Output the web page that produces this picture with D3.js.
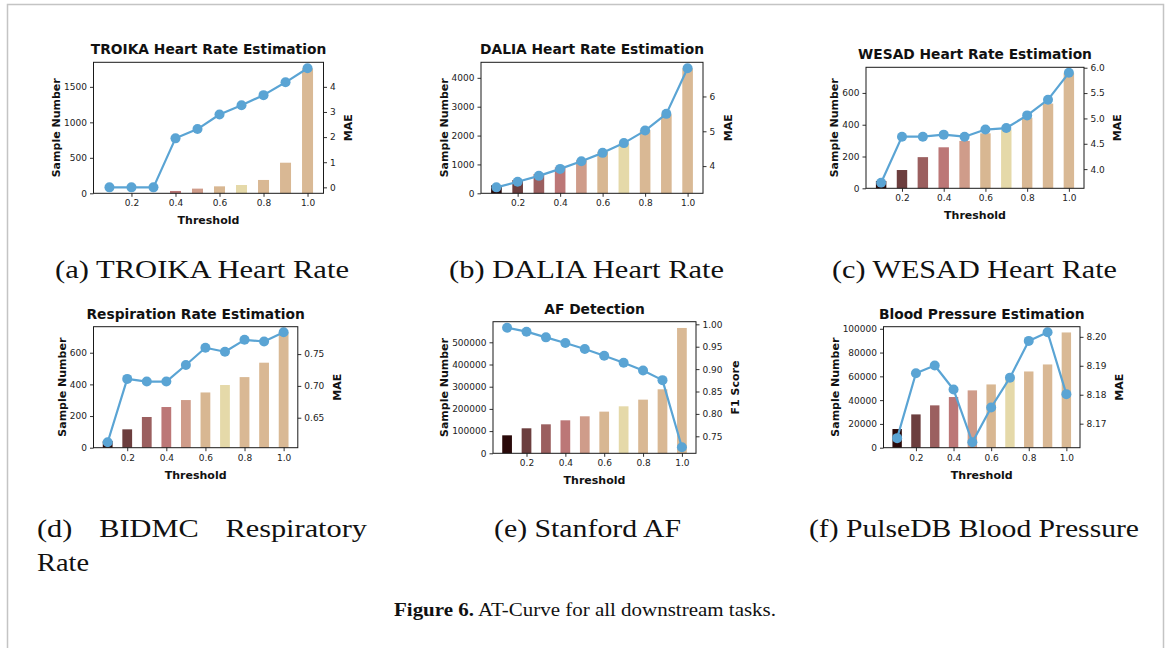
<!DOCTYPE html>
<html><head><meta charset="utf-8">
<script src="https://cdn.jsdelivr.net/npm/d3@7"></script>
<style>body{margin:0;background:#fff} svg{display:block}</style>
</head><body>
<svg id="c" width="1170" height="648"></svg>
<script>
// ---------- data ----------
const thresholds = [0.1,0.2,0.3,0.4,0.5,0.6,0.7,0.8,0.9,1.0];
const xTicks = [0.2,0.4,0.6,0.8,1.0];
const barColors = ['#2a0a0a','#6c3e3e','#9b5f5f','#bc7777','#cf9c8a','#d8b792','#e5d9a9','#d9b894','#d9b894','#d9b995'];

const troikaSamples = [0,0,0,33,66,98,117,188,431,1758];
const troikaMAE = [0,0,0,1.95,2.32,2.90,3.27,3.67,4.18,4.74];
const daliaSamples = [276,460,667,897,1149,1437,1724,2184,2736,4322];
const daliaMAE = [3.39,3.55,3.72,3.92,4.14,4.38,4.66,5.02,5.50,6.81];
const wesadSamples = [46,115,196,258,298,346,371,444,533,725];
const wesadMAE = [3.73,4.64,4.64,4.68,4.64,4.78,4.81,5.06,5.37,5.90];
const bidmcSamples = [42,116,194,257,301,349,396,446,537,728];
const bidmcMAE = [0.6115,0.711,0.7068,0.7068,0.7328,0.7599,0.7536,0.7724,0.7698,0.7844];
const afSamples = [81000,112600,130600,148600,166700,187700,211700,241700,288300,564600];
const afF1 = [0.9925,0.9836,0.9709,0.9582,0.9448,0.9299,0.9142,0.8970,0.8754,0.7254];
const bpSamples = [15700,28000,35600,42600,48200,53200,57400,64100,70000,96900];
const bpMAE = [8.1650,8.1874,8.1901,8.1818,8.1636,8.1756,8.1859,8.1986,8.2016,8.1802];

const troikaLeftTicks = [0,500,1000,1500];
const troikaRightTicks = [0,1,2,3,4];
const daliaLeftTicks = [0,1000,2000,3000,4000];
const daliaRightTicks = [4,5,6];
const wesadLeftTicks = [0,200,400,600];
const wesadRightTicks = [4.0,4.5,5.0,5.5,6.0];
const bidmcLeftTicks = [0,200,400,600];
const bidmcRightTicks = [0.65,0.70,0.75];
const afLeftTicks = [0,100000,200000,300000,400000,500000];
const afRightTicks = [0.75,0.80,0.85,0.90,0.95,1.00];
const bpLeftTicks = [0,20000,40000,60000,80000,100000];
const bpRightTicks = [8.17,8.18,8.19,8.20];

const titles = ['TROIKA Heart Rate Estimation','DALIA Heart Rate Estimation','WESAD Heart Rate Estimation',
  'Respiration Rate Estimation','AF Detection','Blood Pressure Estimation'];
const rightLabels = ['MAE','MAE','MAE','MAE','F1 Score','MAE'];
const xLabel = 'Threshold';
const leftLabel = 'Sample Number';

// ---------- layout ----------
const panels = [
  {samples:troikaSamples, metric:troikaMAE, lt:troikaLeftTicks, rt:troikaRightTicks, rf:'d', box:[93.5,323.5,62.3,193.3], xl:true},
  {samples:daliaSamples, metric:daliaMAE, lt:daliaLeftTicks, rt:daliaRightTicks, rf:'d', box:[481,703,62.3,193.3], xl:false},
  {samples:wesadSamples, metric:wesadMAE, lt:wesadLeftTicks, rt:wesadRightTicks, rf:'.1f', box:[866,1084,67.3,188.3], xl:true},
  {samples:bidmcSamples, metric:bidmcMAE, lt:bidmcLeftTicks, rt:bidmcRightTicks, rf:'.2f', box:[93.5,297.8,326.7,447.7], xl:true},
  {samples:afSamples, metric:afF1, lt:afLeftTicks, rt:afRightTicks, rf:'.2f', box:[493,696,321.7,453.3], xl:true},
  {samples:bpSamples, metric:bpMAE, lt:bpLeftTicks, rt:bpRightTicks, rf:'.2f', box:[883.5,1080,326.7,447.7], xl:true},
];

const svg = d3.select('#c');
const SANS = 'DejaVu Sans';
const LINE = '#5aa4d4';
const INK = '#1a1a1a';

function styleAxis(g){
  g.attr('font-family', SANS).attr('font-size', 9);
  g.select('.domain').remove();
  g.selectAll('.tick line').attr('stroke', INK).attr('stroke-width', 0.9);
  g.selectAll('.tick text').attr('fill', '#222');
}

panels.forEach((p, k) => {
  const [L,R,T,B] = p.box;
  const g = svg.append('g');
  const x = d3.scaleLinear().domain([0.0275,1.0725]).range([L,R]);
  const yL = d3.scaleLinear().domain([0, d3.max(p.samples)*1.05]).range([B,T]);
  const [mn,mx] = d3.extent(p.metric); const pad = (mx-mn)*0.05;
  const yR = d3.scaleLinear().domain([mn-pad, mx+pad]).range([B,T]);

  g.append('g').selectAll('rect').data(thresholds).join('rect')
    .attr('x', d => x(d-0.025)).attr('width', d => x(d+0.025)-x(d-0.025))
    .attr('y', (d,i) => yL(p.samples[i])).attr('height', (d,i) => yL(0)-yL(p.samples[i]))
    .attr('fill', (d,i) => barColors[i]);

  const gx = g.append('g').attr('transform', `translate(0,${B})`)
    .call(d3.axisBottom(x).tickValues(xTicks).tickSize(3.5).tickPadding(3).tickFormat(d3.format('.1f')));
  styleAxis(gx);
  const gl = g.append('g').attr('transform', `translate(${L},0)`)
    .call(d3.axisLeft(yL).tickValues(p.lt).tickSize(3.5).tickPadding(3).tickFormat(d3.format('d')));
  styleAxis(gl);
  const gr = g.append('g').attr('transform', `translate(${R},0)`)
    .call(d3.axisRight(yR).tickValues(p.rt).tickSize(3.5).tickPadding(3).tickFormat(d3.format(p.rf)));
  styleAxis(gr);

  // line + markers
  const line = d3.line().x((d,i) => x(thresholds[i])).y(d => yR(d));
  g.append('path').datum(p.metric).attr('d', line).attr('fill','none')
    .attr('stroke', LINE).attr('stroke-width', 2.2).attr('stroke-linejoin','round');
  g.append('g').selectAll('circle').data(p.metric).join('circle')
    .attr('cx', (d,i) => x(thresholds[i])).attr('cy', d => yR(d)).attr('r', 5).attr('fill', LINE);

  // frame
  g.append('rect').attr('x', L).attr('y', T).attr('width', R-L).attr('height', B-T)
    .attr('fill','none').attr('stroke', INK).attr('stroke-width', 1);

  // title
  g.append('text').attr('x', (L+R)/2).attr('y', T-8).attr('text-anchor','middle')
    .attr('font-family', SANS).attr('font-weight','bold').attr('font-size', 13.8).attr('fill','#111')
    .text(titles[k]);

  // labels
  const lb = gl.node().getBBox();
  g.append('text').attr('transform', `translate(${L + lb.x - 4},${(T+B)/2}) rotate(-90)`)
    .attr('text-anchor','middle').attr('font-family', SANS).attr('font-weight','bold')
    .attr('font-size', 11).attr('fill','#111').text(leftLabel);
  const rb = gr.node().getBBox();
  g.append('text').attr('transform', `translate(${R + rb.x + rb.width + 16},${(T+B)/2}) rotate(-90)`)
    .attr('text-anchor','middle').attr('font-family', SANS).attr('font-weight','bold')
    .attr('font-size', 11).attr('fill','#111').text(rightLabels[k]);
  if (p.xl) {
    g.append('text').attr('x', (L+R)/2).attr('y', B + 31).attr('text-anchor','middle')
      .attr('font-family', SANS).attr('font-weight','bold').attr('font-size', 11).attr('fill','#111')
      .text(xLabel);
  }
});

// ---------- captions ----------
const SERIF = 'Liberation Serif';
const captions = [
  {t:'(a) TROIKA Heart Rate', x0:55, x1:349, y:278},
  {t:'(b) DALIA Heart Rate', x0:449, x1:724, y:278},
  {t:'(c) WESAD Heart Rate', x0:832, x1:1117, y:278},
  {t:'(e) Stanford AF', x0:494, x1:681, y:537},
  {t:'(f) PulseDB Blood Pressure', x0:809, x1:1139, y:537},
  {t:'Rate', x0:37, x1:89, y:571},
];
captions.forEach(c => {
  svg.append('text').attr('x', c.x0).attr('y', c.y).attr('font-family', SERIF).attr('font-size', 26)
    .attr('fill','#111').attr('textLength', c.x1-c.x0).attr('lengthAdjust','spacingAndGlyphs').text(c.t);
});
// justified first line of caption (d): equal gaps between 37 and 367
const dWords = ['(d)', 'BIDMC', 'Respiratory'];
const stretch = 1.167;
const dNodes = dWords.map(w => svg.append('text').attr('y', 537).attr('font-family', SERIF)
  .attr('font-size', 26).attr('fill','#111').text(w));
const widths = dNodes.map(n => n.node().getComputedTextLength() * stretch);
const gap = (367 - 37 - d3.sum(widths)) / (dWords.length - 1);
let cx = 37;
dNodes.forEach((n, i) => {
  n.attr('x', cx).attr('textLength', widths[i]).attr('lengthAdjust','spacingAndGlyphs');
  cx += widths[i] + gap;
});

const fig = svg.append('text').attr('x', 394).attr('y', 616).attr('font-family', SERIF).attr('font-size', 18)
  .attr('fill','#111').attr('textLength', 382).attr('lengthAdjust','spacingAndGlyphs');
fig.append('tspan').attr('font-weight','bold').text('Figure 6.');
fig.append('tspan').text(' AT-Curve for all downstream tasks.');

// page frame
svg.append('path').attr('d','M7.5,648 V4.5 H1163.5 V648').attr('fill','none')
  .attr('stroke','#c4c4c4').attr('stroke-width',1.5);
</script>
</body></html>
